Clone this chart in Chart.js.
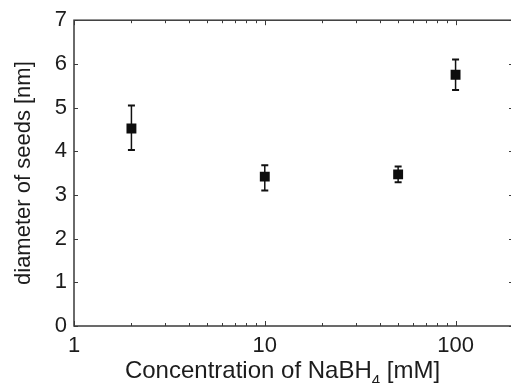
<!DOCTYPE html>
<html>
<head>
<meta charset="utf-8">
<script src="https://cdn.jsdelivr.net/npm/chart.js@4/dist/chart.umd.min.js"></script>
<style>
  html, body { margin: 0; padding: 0; overflow: hidden; background: #fff; }
  #wrap { width: 520px; height: 383px; }
</style>
</head>
<body>
<div id="wrap"><canvas id="seeds-chart" width="520" height="383"></canvas></div>
<script>
// NaBH4 concentration [mM] vs. seed diameter [nm]
const concentrations = [2, 10, 50, 100];
const diameters = [4.52, 3.42, 3.47, 5.75];
const diameterLow = [4.03, 3.10, 3.29, 5.40];
const diameterHigh = [5.05, 3.68, 3.65, 6.10];

const xTickValues = [1, 10, 100];
const xMinorValues = [2, 3, 4, 5, 6, 7, 8, 9, 20, 30, 40, 50, 60, 70, 80, 90, 200];
const yTickValues = [0, 1, 2, 3, 4, 5, 6, 7];

const xTitle = ['Concentration of NaBH', '4', ' [mM]'];
const yTitle = 'diameter of seeds [nm]';

const FONT = "'Liberation Sans', Arial, sans-serif";
const AXIS_COLOR = '#3a3a3a';
const TEXT_COLOR = '#1c1c1c';

// error bars under the markers
const errorBars = {
    id: 'errorBars',
    beforeDatasetsDraw(chart) {
        const ctx = chart.ctx;
        const x = chart.scales.x;
        const y = chart.scales.y;
        ctx.save();
        ctx.strokeStyle = '#111';
        concentrations.forEach((c, i) => {
            const px = x.getPixelForValue(c);
            const top = y.getPixelForValue(diameterHigh[i]);
            const bot = y.getPixelForValue(diameterLow[i]);
            ctx.lineWidth = 1.5;
            ctx.beginPath();
            ctx.moveTo(px, top);
            ctx.lineTo(px, bot);
            ctx.stroke();
            ctx.lineWidth = 2;
            ctx.beginPath();
            ctx.moveTo(px - 3.5, top);
            ctx.lineTo(px + 3.5, top);
            ctx.moveTo(px - 3.5, bot);
            ctx.lineTo(px + 3.5, bot);
            ctx.stroke();
        });
        ctx.restore();
    }
};

// box frame with inward ticks, and the x title with a subscript
const frame = {
    id: 'frame',
    afterDraw(chart) {
        const ctx = chart.ctx;
        const a = chart.chartArea;
        const x = chart.scales.x;
        const y = chart.scales.y;
        ctx.save();
        ctx.strokeStyle = AXIS_COLOR;
        ctx.lineWidth = 1.5;
        ctx.strokeRect(a.left, a.top, a.right - a.left, a.bottom - a.top);

        ctx.lineWidth = 1;
        ctx.beginPath();
        xTickValues.concat(xMinorValues).forEach(v => {
            const len = xTickValues.includes(v) ? 5 : 3;
            const px = Math.round(x.getPixelForValue(v)) + 0.5;
            ctx.moveTo(px, a.bottom);
            ctx.lineTo(px, a.bottom - len);
            ctx.moveTo(px, a.top);
            ctx.lineTo(px, a.top + len);
        });
        yTickValues.forEach(v => {
            const py = Math.round(y.getPixelForValue(v)) + 0.5;
            ctx.moveTo(a.left, py);
            ctx.lineTo(a.left + 4, py);
            ctx.moveTo(a.right, py);
            ctx.lineTo(a.right - 4, py);
        });
        ctx.stroke();

        // x axis title
        ctx.fillStyle = TEXT_COLOR;
        ctx.textBaseline = 'alphabetic';
        ctx.textAlign = 'left';
        const big = '24px ' + FONT;
        const small = '15px ' + FONT;
        ctx.font = big;
        const w1 = ctx.measureText(xTitle[0]).width;
        const w3 = ctx.measureText(xTitle[2]).width;
        ctx.font = small;
        const w2 = ctx.measureText(xTitle[1]).width;
        const baseline = 378;
        let sx = 282.5 - (w1 + w2 + w3) / 2;
        ctx.font = big;
        ctx.fillText(xTitle[0], sx, baseline);
        sx += w1;
        ctx.font = small;
        ctx.fillText(xTitle[1], sx, baseline + 7);
        sx += w2;
        ctx.font = big;
        ctx.fillText(xTitle[2], sx, baseline);
        ctx.restore();
    }
};

const ctx = document.getElementById('seeds-chart').getContext('2d');
const chart = new Chart(ctx, {
    type: 'scatter',
    data: {
        datasets: [{
            label: 'seeds',
            data: concentrations.map((c, i) => ({ x: c, y: diameters[i] })),
            pointStyle: 'rect',
            pointRadius: 7,
            pointHoverRadius: 7,
            backgroundColor: '#0d0d0d',
            borderColor: '#0d0d0d',
            borderWidth: 0
        }]
    },
    options: {
        responsive: false,
        animation: false,
        devicePixelRatio: 1,
        layout: { padding: { top: 20, right: 4, left: 0, bottom: 0 } },
        plugins: {
            legend: { display: false },
            tooltip: { enabled: false }
        },
        scales: {
            x: {
                type: 'logarithmic',
                min: 1,
                max: 200,
                grid: { display: false, drawTicks: false },
                border: { display: false },
                afterBuildTicks: scale => {
                    scale.ticks = xTickValues.map(v => ({ value: v }));
                },
                afterFit: scale => { scale.height = 57; },
                ticks: {
                    autoSkip: false,
                    maxRotation: 0,
                    padding: 7,
                    color: TEXT_COLOR,
                    font: { family: FONT, size: 22 },
                    callback: value => String(value)
                }
            },
            y: {
                min: 0,
                max: 7,
                grid: { display: false, drawTicks: false },
                border: { display: false },
                afterFit: scale => { scale.width = 74; },
                ticks: {
                    stepSize: 1,
                    padding: 7,
                    color: TEXT_COLOR,
                    font: { family: FONT, size: 22 }
                },
                title: {
                    display: true,
                    text: yTitle,
                    color: TEXT_COLOR,
                    font: { family: FONT, size: 22 },
                    padding: { top: 11, bottom: 0 }
                }
            }
        }
    },
    plugins: [errorBars, frame]
});
</script>
</body>
</html>
